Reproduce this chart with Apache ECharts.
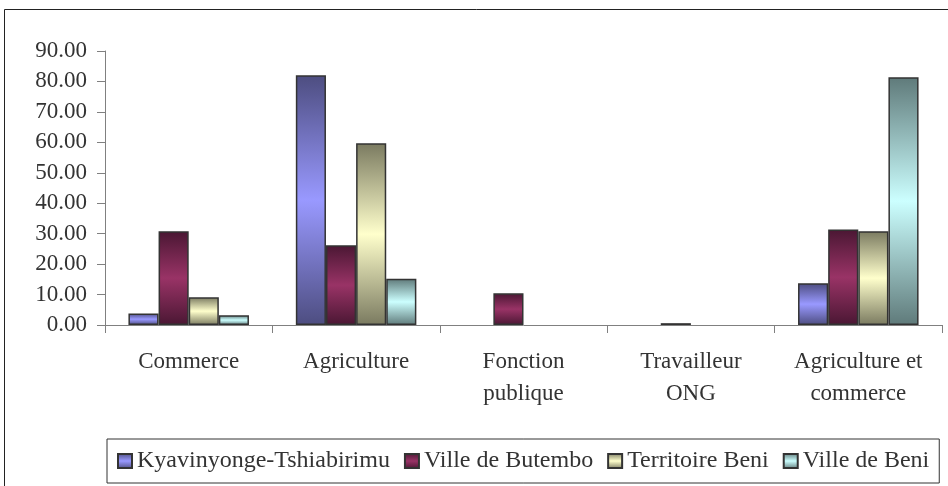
<!DOCTYPE html>
<html>
<head>
<meta charset="utf-8">
<script src="https://cdn.jsdelivr.net/npm/echarts@6/dist/echarts.min.js"></script>
<style>
  html, body { margin: 0; padding: 0; background: #fff; }
  #chart { width: 948px; height: 486px; }
</style>
</head>
<body>
<div id="chart"></div>
<script>
// data
const categories = ['Commerce', 'Agriculture', 'Fonction\npublique', 'Travailleur\nONG', 'Agriculture et\ncommerce']
const seriesNames = ['Kyavinyonge-Tshiabirimu', 'Ville de Butembo', 'Territoire Beni', 'Ville de Beni']
const kyavinyonge = [3.8, 82.0, 0, 0, 13.7]
const butembo = [30.8, 26.2, 10.4, 0.6, 31.4]
const territoireBeni = [9.1, 59.7, 0, 0, 30.8]
const villeBeni = [3.2, 15.2, 0, 0, 81.4]

// [dark edge, light middle]
const colours = [
  ['#4d4d80', '#9999ff'],
  ['#4a1733', '#993366'],
  ['#7a7a60', '#ffffcc'],
  ['#5f7a7a', '#ccffff']
]

const serif = '"Liberation Serif", "Times New Roman", serif'

function barGradient(c) {
  return new echarts.graphic.LinearGradient(0, 0, 0, 1, [
    { offset: 0, color: c[0] },
    { offset: 0.5, color: c[1] },
    { offset: 1, color: c[0] }
  ])
}

const values = [kyavinyonge, butembo, territoireBeni, villeBeni]

// zero bars are not drawn in the original, so drop their outline
function toItems(arr) {
  return arr.map(v => v === 0 ? { value: 0, itemStyle: { borderWidth: 0 } } : v)
}

const chart = echarts.init(document.getElementById('chart'))
chart.setOption({
  animation: false,
  graphic: [{
    type: 'rect',
    shape: { x: 4.5, y: 9.5, width: 1000, height: 1000 },
    style: { fill: 'none', stroke: '#222', lineWidth: 1 },
    silent: true
  }],
  grid: {
    left: 105,
    right: 6,
    top: 51,
    bottom: 161
  },
  legend: {
    left: 107,
    top: 439,
    padding: [10, 10, 10, 10],
    borderColor: '#333',
    borderWidth: 1,
    itemWidth: 14,
    itemHeight: 14,
    itemGap: 14,
    icon: 'rect',
    textStyle: { fontFamily: serif, fontSize: 24, color: '#333' },
    data: seriesNames
  },
  xAxis: {
    type: 'category',
    data: categories,
    axisLine: { lineStyle: { color: '#808080', width: 1 } },
    axisTick: { show: true, length: 8, lineStyle: { color: '#808080' } },
    axisLabel: {
      interval: 0,
      margin: 21,
      fontFamily: serif,
      fontSize: 23,
      lineHeight: 32,
      color: '#333'
    }
  },
  yAxis: {
    type: 'value',
    min: 0,
    max: 90,
    interval: 10,
    axisLine: { show: true, lineStyle: { color: '#808080', width: 1 } },
    axisTick: { show: true, length: 8, lineStyle: { color: '#808080' } },
    splitLine: { show: false },
    axisLabel: {
      margin: 18,
      fontFamily: serif,
      fontSize: 23,
      color: '#333',
      formatter: v => v.toFixed(2)
    }
  },
  series: seriesNames.map((name, i) => ({
    name: name,
    type: 'bar',
    data: toItems(values[i]),
    barGap: '0%',
    barCategoryGap: '28%',
    itemStyle: {
      color: barGradient(colours[i]),
      borderColor: '#333',
      borderWidth: 1.5
    }
  }))
})
</script>
</body>
</html>
